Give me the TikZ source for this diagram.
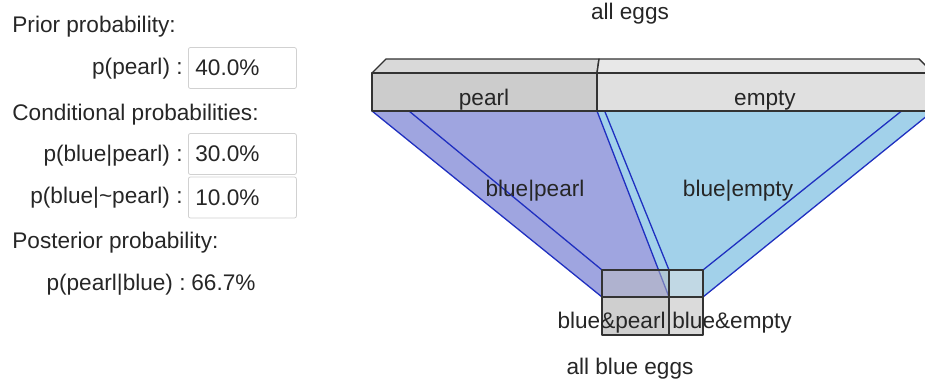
\documentclass[tikz,border=0pt]{standalone}
\usepackage{fontspec}
\setmainfont{Liberation Sans}
\usetikzlibrary{positioning}

\definecolor{pearlblue}{HTML}{9FA5E0}
\definecolor{emptyblue}{HTML}{A2D1EA}
\definecolor{edgeblue}{HTML}{1F2FC0}
\definecolor{boxline}{HTML}{333333}

\begin{document}
\begin{tikzpicture}[x=0.5pt,y=-0.5pt,
  every node/.style={font=\fontsize{11.3}{13.5}\selectfont,text=black!85,inner sep=0pt},
  heading/.style={anchor=base west},
  problbl/.style={anchor=base east},
  valbox/.style={draw=black!18,fill=white,rounded corners=1pt,anchor=west,
    minimum height=20.5pt,text width=47pt,inner xsep=3.5pt,align=left},
  face/.style={draw=boxline,line width=0.7pt,line join=round},
  funnel/.style={draw=edgeblue,line width=0.65pt}]
\useasboundingbox (0,0) rectangle (925,385);
\clip (0,0) rectangle (925,385);

% input panel
\node[heading] (prior) at (12,33) {Prior probability:};
\node[problbl] (ppearl) at (183,75) {p(pearl) :};
\node[valbox] (ppearlval) at (188,68) {40.0\%};
\node[heading] (cond) at (12,120) {Conditional probabilities:};
\node[problbl] (pbp) at (183,162) {p(blue|pearl) :};
\node[valbox] (pbpval) at (188,154) {30.0\%};
\node[problbl] (pbn) at (183,203) {p(blue|\textasciitilde pearl) :};
\node[valbox] (pbnval) at (188,197.5) {10.0\%};
\node[heading] (post) at (12,248) {Posterior probability:};
\node[problbl] (ppb) at (186,290) {p(pearl|blue) :};
\node[heading] (ppbval) at (191,290) {66.7\%};

% all eggs box
\coordinate (backL) at (386,59);
\coordinate (backM) at (599,59);
\coordinate (backR) at (919,59);
\coordinate (topL) at (372,73);
\coordinate (topM) at (597,73);
\coordinate (topR) at (933,73);
\coordinate (botL) at (372,111);
\coordinate (botM) at (597,111);
\coordinate (botR) at (933,111);
\coordinate (hidL) at (392,97);
\coordinate (hidM) at (599,97);
\coordinate (hidR) at (919,97);
% all blue eggs box
\coordinate (bbackL) at (602,270);
\coordinate (bbackM) at (669,270);
\coordinate (bbackR) at (703,270);
\coordinate (btopL) at (602,297);
\coordinate (btopM) at (669,297);
\coordinate (btopR) at (703,297);
\coordinate (bbotL) at (602,335);
\coordinate (bbotM) at (669,335);
\coordinate (bbotR) at (703,335);

% funnels
\fill[pearlblue] (botL) -- (botM) -- (btopM) -- (btopL) -- cycle;
\fill[emptyblue] (botM) -- (botR) -- (btopR) -- (btopM) -- cycle;
\draw[funnel] (botL) -- (btopL) (hidL) -- (bbackL);
\draw[funnel] (botM) -- (btopM) (hidM) -- (bbackM);
\draw[funnel] (botR) -- (btopR) (hidR) -- (bbackR);

% blue eggs box
\draw[face,fill=black!25,fill opacity=0.5] (bbackL) rectangle (btopM);
\draw[face,fill=black!12,fill opacity=0.5] (bbackM) rectangle (btopR);
\draw[face,fill=black!19] (btopL) rectangle (bbotM);
\draw[face,fill=black!14] (btopM) rectangle (bbotR);

% eggs box
\draw[face,fill=black!15] (backL) -- (backM) -- (topM) -- (topL) -- cycle;
\draw[face,fill=black!9] (backM) -- (backR) -- (topR) -- (topM) -- cycle;
\draw[face,fill=black!20] (topL) rectangle (botM);
\draw[face,fill=black!12] (topM) rectangle (botR);

% labels
\node[anchor=base] (alleggs) at (630,20) {all eggs};
\node[anchor=base] (pearl) at (484,105) {pearl};
\node[anchor=base] (empty) at (765,105) {empty};
\node[anchor=base] (bpearl) at (535,196) {blue|pearl};
\node[anchor=base] (bempty) at (738,196) {blue|empty};
\node[anchor=base east] (bandp) at (666,328) {blue\&pearl};
\node[anchor=base west] (bande) at (672,328) {blue\&empty};
\node[anchor=base] (allblue) at (630,374) {all blue eggs};
\end{tikzpicture}
\end{document}
